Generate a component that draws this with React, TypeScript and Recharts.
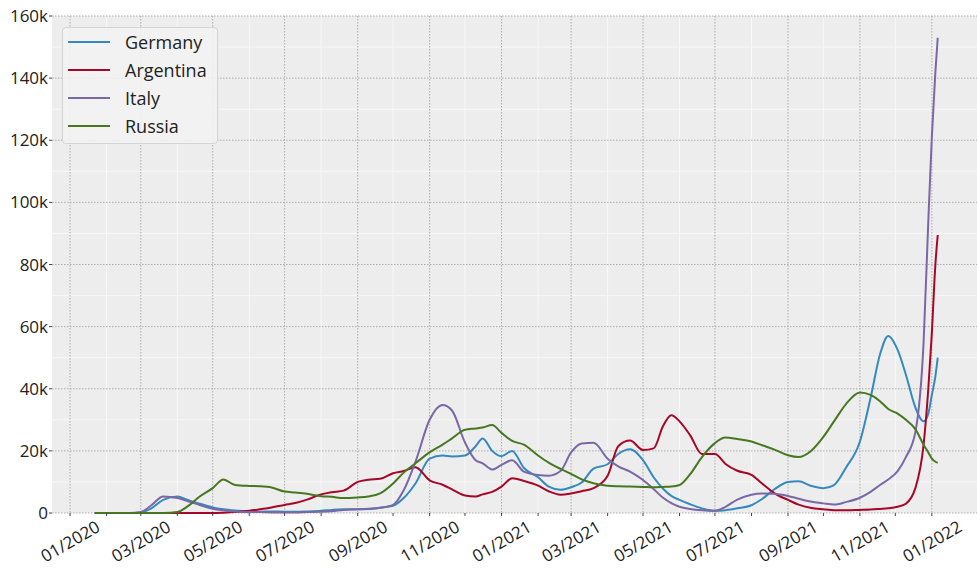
import { LineChart, Line, XAxis, YAxis, CartesianGrid, Legend } from 'recharts';

// sample dates (daily new cases, 7-day smoothed), values in thousands
const dates = [
  '2020-01-22', '2020-02-01', '2020-02-10', '2020-02-20',
  '2020-03-01', '2020-03-10', '2020-03-20',
  '2020-04-01', '2020-04-10', '2020-04-20',
  '2020-05-01', '2020-05-10', '2020-05-20',
  '2020-06-01', '2020-06-10', '2020-06-20',
  '2020-07-01', '2020-07-10', '2020-07-20',
  '2020-08-01', '2020-08-10', '2020-08-20',
  '2020-09-01', '2020-09-10', '2020-09-20',
  '2020-10-01', '2020-10-10', '2020-10-20',
  '2020-11-01', '2020-11-12', '2020-11-20',
  '2020-12-01', '2020-12-10', '2020-12-16', '2020-12-24',
  '2021-01-01', '2021-01-10', '2021-01-20',
  '2021-02-01', '2021-02-10', '2021-02-20',
  '2021-03-01', '2021-03-10', '2021-03-20',
  '2021-04-01', '2021-04-10', '2021-04-20',
  '2021-05-01', '2021-05-10', '2021-05-18', '2021-05-25',
  '2021-06-01', '2021-06-10', '2021-06-20',
  '2021-07-01', '2021-07-10', '2021-07-20',
  '2021-08-01', '2021-08-10', '2021-08-20',
  '2021-09-01', '2021-09-10', '2021-09-20',
  '2021-10-01', '2021-10-10', '2021-10-20',
  '2021-11-01', '2021-11-10', '2021-11-18', '2021-11-25',
  '2021-12-03', '2021-12-10', '2021-12-18', '2021-12-25', '2021-12-29',
  '2022-01-01', '2022-01-04', '2022-01-06',
];

const germany = [
  0, 0, 0, 0,
  0.1, 1.5, 4.2,
  5.3, 4.2, 3.0,
  1.8, 1.2, 0.8,
  0.5, 0.4, 0.5,
  0.4, 0.4, 0.5,
  0.7, 1.0, 1.2,
  1.2, 1.3, 1.7,
  2.3, 4.8, 9.5,
  17.5, 18.5, 18.2,
  18.5, 21.5, 24, 20,
  18.3, 20, 14.5,
  11.5, 8.5, 7.5,
  8.3, 9.8, 14.3,
  15.7, 19, 20.5,
  17, 11.5, 7.8, 5.5,
  4.2, 2.8, 1.5,
  0.7, 0.9, 1.5,
  2.5, 4.5, 7.5,
  10, 10.2, 8.8,
  8.0, 9.0, 14.5,
  23, 37, 51, 57,
  52.5, 44.5, 34, 29.5, 32,
  38, 44, 50,
];

const argentina = [
  0, 0, 0, 0,
  0, 0, 0,
  0, 0, 0,
  0, 0.1, 0.3,
  0.7, 1.2, 1.8,
  2.6, 3.2, 4.3,
  6.0, 6.7, 7.2,
  10, 10.7, 11,
  12.8, 13.5, 14.7,
  10.5, 9.1, 7.6,
  5.6, 5.3, 6, 6.8,
  8.5, 11.2, 10.3,
  8.8, 7, 5.9,
  6.3, 7.0, 8,
  12, 21.5, 23.3,
  20.3, 20.8, 28, 31.5,
  29.5, 25, 19,
  19, 15.8, 13.6,
  12.3, 9.5, 6.5,
  4.2, 2.7, 1.7,
  1.2, 0.9, 0.9,
  1.0, 1.1, 1.3, 1.5,
  2.0, 3, 8, 22, 40,
  58, 80, 89.5,
];

const italy = [
  0, 0, 0, 0,
  0.3, 2.5, 5.3,
  4.8, 3.8, 2.6,
  1.4, 0.9, 0.5,
  0.3, 0.3, 0.2,
  0.2, 0.2, 0.3,
  0.4, 0.6, 1.0,
  1.2, 1.4, 1.7,
  2.6, 7.3, 16.5,
  30, 34.8, 33,
  22.7, 17, 16, 14,
  15.5, 17, 13.3,
  12.2, 12, 13.5,
  19.5, 22.4, 22.6,
  17.5, 15, 13.3,
  10.6, 7.7, 4.9, 3.2,
  2, 1.3, 0.9,
  0.7, 2.0, 4.3,
  5.9, 6.3, 6.2,
  5.5, 4.6, 3.7,
  3.1, 2.7, 3.5,
  4.9, 6.8, 9, 10.8,
  13.5, 18, 26, 55, 94,
  121, 142, 153,
];

const russia = [
  0, 0, 0, 0,
  0, 0, 0,
  0.3, 2.2, 5.3,
  8, 10.8, 9,
  8.7, 8.6, 8.2,
  6.9, 6.6, 6.2,
  5.4, 5.2, 4.8,
  5.0, 5.3, 6.3,
  9.5, 13, 16,
  19.5, 22, 24,
  26.8, 27.2, 27.5, 28.3,
  25.8, 23.2, 22,
  18.5, 16.2, 14.2,
  12.6, 10.8, 9.6,
  8.8, 8.6, 8.5,
  8.4, 8.3, 8.4, 8.5,
  9, 12.5, 18,
  22.5, 24.3, 23.8,
  23, 21.8, 20.5,
  18.6, 18, 19.8,
  24.5, 29.5, 35,
  38.8, 38, 36, 33.5,
  32, 30, 27, 22, 19.5,
  17.5, 16.5, 16.2,
];

// month starts on the x axis; labels on every other month
const tickMonths = [
  '2020-01', '2020-02', '2020-03', '2020-04', '2020-05', '2020-06', '2020-07',
  '2020-08', '2020-09', '2020-10', '2020-11', '2020-12',
  '2021-01', '2021-02', '2021-03', '2021-04', '2021-05', '2021-06', '2021-07',
  '2021-08', '2021-09', '2021-10', '2021-11', '2021-12', '2022-01',
];
const yMajor = [0, 20000, 40000, 60000, 80000, 100000, 120000, 140000, 160000];
const yMinor = [10000, 30000, 50000, 70000, 90000, 110000, 130000, 150000];

const series = [
  { key: 'Germany', values: germany, color: '#348ABD' },
  { key: 'Argentina', values: argentina, color: '#A60628' },
  { key: 'Italy', values: italy, color: '#7A68A6' },
  { key: 'Russia', values: russia, color: '#467821' },
];

const DAY = 86400000;
const ORIGIN = Date.UTC(2020, 0, 1);
const toDay = (iso: string) => {
  const [y, m, d] = iso.split('-').map(Number);
  return (Date.UTC(y, m - 1, d || 1) - ORIGIN) / DAY;
};

const data = dates.map((iso, i) => {
  const row: Record<string, number> = { day: toDay(iso) };
  series.forEach((s) => {
    row[s.key] = s.values[i] * 1000;
  });
  return row;
});

const monthTicks = tickMonths.map(toDay);
const majorMonths = monthTicks.filter((_, i) => i % 2 === 0);
const minorMonths = monthTicks.filter((_, i) => i % 2 === 1);

const FONT = '"Open Sans", "Noto Sans", sans-serif';

const MonthTick = (props: any) => {
  const { x, y, index } = props;
  const ym = tickMonths[index];
  if (!ym || index % 2 === 1) return <g />;
  const [yr, mo] = ym.split('-');
  const cx = x;
  const cy = y + 23;
  return (
    <text
      x={cx}
      y={cy}
      transform={`rotate(-30 ${cx} ${cy})`}
      textAnchor="middle"
      dominantBaseline="central"
      fontSize={17}
      fontFamily={FONT}
      fill="#222"
    >
      {`${mo}/${yr}`}
    </text>
  );
};

// legend keeps the series order (Germany, Argentina, Italy, Russia)
const LegendBox = (props: any) => {
  const payload = props.payload || [];
  const ordered = series
    .map((s) => payload.find((p: any) => p.value === s.key) || { value: s.key, color: s.color })
  return (
    <div
      style={{
        width: 156,
        boxSizing: 'border-box',
        background: 'rgba(242,242,242,0.9)',
        border: '1px solid #d4d4d4',
        borderRadius: 4,
        paddingBottom: 3,
        fontFamily: FONT,
      }}
    >
      {ordered.map((entry: any) => (
        <div key={entry.value} style={{ display: 'flex', alignItems: 'center', height: 28 }}>
          <svg width={62} height={28} style={{ display: 'block' }}>
            <line x1={5} x2={47} y1={14} y2={14} stroke={entry.color} strokeWidth={2} />
          </svg>
          <span style={{ fontSize: 18, color: '#222', lineHeight: '28px' }}>{entry.value}</span>
        </div>
      ))}
    </div>
  );
};

export default function App() {
  return (
    <div style={{ position: 'absolute', left: 0, top: 0, width: 977, height: 569, background: '#fff' }}>
      <LineChart width={977} height={569} data={data} margin={{ top: 16, right: 0, bottom: 0, left: 0 }}>
        <CartesianGrid
          fill="#ededed"
          stroke="#f8f8f8"
          strokeWidth={1}
          verticalValues={minorMonths}
          horizontalValues={yMinor}
        />
        <CartesianGrid
          stroke="#adadad"
          strokeDasharray="1.5 1.5"
          strokeWidth={1}
          verticalValues={majorMonths}
          horizontalValues={yMajor}
        />
        <XAxis
          dataKey="day"
          type="number"
          domain={[-15.3, 769.3]}
          allowDataOverflow
          ticks={monthTicks}
          interval={0}
          height={56}
          axisLine={false}
          tickLine={{ stroke: '#444' }}
          tickSize={3}
          tickMargin={2}
          tick={<MonthTick />}
        />
        <YAxis
          type="number"
          domain={[0, 160000]}
          ticks={yMajor}
          interval={0}
          width={52}
          axisLine={false}
          tickLine={{ stroke: '#444' }}
          tickSize={3}
          tickMargin={1}
          tick={{ fontSize: 17, fontFamily: FONT, fill: '#222' }}
          tickFormatter={(v: number) => (v === 0 ? '0' : `${v / 1000}k`)}
        />
        <Legend
          layout="vertical"
          align="center"
          verticalAlign="middle"
          wrapperStyle={{ left: 62, top: 27, width: 156 }}
          content={<LegendBox />}
        />
        {series.map((s) => (
          <Line
            key={s.key}
            dataKey={s.key}
            name={s.key}
            type="monotone"
            stroke={s.color}
            strokeWidth={2}
            dot={false}
            activeDot={false}
            isAnimationActive={false}
          />
        ))}
      </LineChart>
    </div>
  );
}
